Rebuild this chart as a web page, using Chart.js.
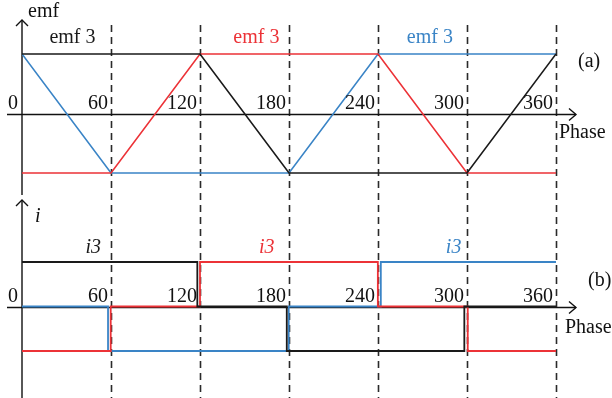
<!DOCTYPE html>
<html>
<head>
<meta charset="utf-8">
<script src="https://cdn.jsdelivr.net/npm/chart.js@4.4.0/dist/chart.umd.min.js"></script>
<style>
  html, body { margin: 0; padding: 0; background: #fff; }
</style>
</head>
<body>
<canvas id="chart" width="612" height="398"></canvas>
<script>
// phase ticks in electrical degrees
var phaseTicks = [0, 60, 120, 180, 240, 300, 360];

// (a) trapezoidal back-emf, value at each phase tick
var emfBlack = [1, 1, 1, -1, -1, -1, 1];
var emfRed = [-1, -1, 1, 1, 1, -1, -1];
var emfBlue = [1, -1, -1, -1, 1, 1, 1];

// (b) phase currents: switching phase and the level held after it
var iBlackPhase = [0, 118.2, 178.5, 298.2, 360];
var iBlack = [1, 0, -1, 0, 0];
var iRedPhase = [0, 59.8, 120, 239.9, 300.5, 360];
var iRed = [-1, 0, 1, 0, -1, -1];
var iBluePhase = [0, 58, 179.8, 241.9, 360];
var iBlue = [0, -1, 0, 1, 1];

// where each curve label sits along the phase axis
var emfLabelPhase = [34, 158, 275];
var iLabelPhase = [48, 165, 291];

var colors = ['#1a1a1a', '#ec3237', '#3a84c6'];
var serif = '"Liberation Serif", "DejaVu Serif", serif';

function pts(xs, ys) {
    return xs.map(function(x, k) {
        return { x: x, y: ys[k] };
    });
}

function line(data, color, axis, stepped) {
    return {
        data: data,
        yAxisID: axis,
        borderColor: color,
        borderWidth: stepped ? 1.8 : 1.6,
        pointRadius: 0,
        stepped: !!stepped,
        tension: 0,
        fill: false
    };
}

function arrowUp(ctx, x, y) {
    ctx.beginPath();
    ctx.moveTo(x - 6, y + 6);
    ctx.lineTo(x, y);
    ctx.lineTo(x + 6, y + 6);
    ctx.stroke();
}

function arrowRight(ctx, x, y) {
    ctx.beginPath();
    ctx.moveTo(x - 7, y - 6);
    ctx.lineTo(x, y);
    ctx.lineTo(x - 7, y + 6);
    ctx.stroke();
}

// dashed phase guides and both pairs of axes, under the curves
var frame = {
    id: 'frame',
    beforeDatasetsDraw: function(chart) {
        var ctx = chart.ctx, sx = chart.scales.x, ya = chart.scales.yA, yb = chart.scales.yB;
        var x0 = sx.getPixelForValue(0), xEnd = sx.getPixelForValue(360);
        ctx.save();
        ctx.strokeStyle = '#2a2a2a';
        ctx.lineWidth = 1.6;
        ctx.setLineDash([7, 5]);
        phaseTicks.slice(1).forEach(function(p) {
            var px = Math.round(sx.getPixelForValue(p)) + 0.5;
            ctx.beginPath();
            ctx.moveTo(px, ya.getPixelForValue(1) - 29);
            ctx.lineTo(px, chart.chartArea.bottom);
            ctx.stroke();
        });
        ctx.setLineDash([]);
        ctx.strokeStyle = '#111';
        ctx.lineWidth = 1.4;
        [[ya, ya.getPixelForValue(1) - 34, ya.getPixelForValue(-1) + 22],
         [yb, yb.getPixelForValue(1) - 62, chart.chartArea.bottom]].forEach(function(p) {
            var yz = Math.round(p[0].getPixelForValue(0)) + 0.5;
            ctx.beginPath();
            ctx.moveTo(x0 - 15, yz);
            ctx.lineTo(xEnd + 20, yz);
            ctx.moveTo(x0, p[1]);
            ctx.lineTo(x0, p[2]);
            ctx.stroke();
            arrowRight(ctx, xEnd + 20, yz);
            arrowUp(ctx, x0, p[1]);
        });
        ctx.restore();
    },
    afterDatasetsDraw: function(chart) {
        var ctx = chart.ctx, sx = chart.scales.x, ya = chart.scales.yA, yb = chart.scales.yB;
        var x0 = sx.getPixelForValue(0);
        var font = '20px ' + serif, italic = 'italic 20px ' + serif;
        ctx.save();
        ctx.textBaseline = 'alphabetic';
        ctx.font = font;
        ctx.fillStyle = '#111';
        // phase tick labels on both axes
        ctx.textAlign = 'right';
        [ya, yb].forEach(function(s) {
            var yz = s.getPixelForValue(0) - 5;
            phaseTicks.forEach(function(p) {
                ctx.fillText(String(p), sx.getPixelForValue(p) - (p === 0 ? 4 : 3), yz);
            });
        });
        ctx.textAlign = 'left';
        ctx.fillText('emf', x0 + 6, ya.getPixelForValue(1) - 37);
        ctx.fillText('Phase', 559, ya.getPixelForValue(0) + 24);
        ctx.fillText('Phase', 565, yb.getPixelForValue(0) + 26);
        ctx.fillText('(a)', 578, ya.getPixelForValue(1) + 13);
        ctx.fillText('(b)', 588, yb.getPixelForValue(0) - 21);
        ctx.font = italic;
        ctx.fillText('i', x0 + 13, yb.getPixelForValue(1) - 40);
        // curve labels
        ctx.textAlign = 'center';
        colors.forEach(function(c, k) {
            ctx.fillStyle = c;
            ctx.font = font;
            ctx.fillText('emf 3', sx.getPixelForValue(emfLabelPhase[k]), ya.getPixelForValue(1) - 11);
            ctx.font = italic;
            ctx.fillText('i3', sx.getPixelForValue(iLabelPhase[k]), yb.getPixelForValue(1) - 9);
        });
        ctx.restore();
    }
};

new Chart(document.getElementById('chart').getContext('2d'), {
    type: 'line',
    data: {
        datasets: [
            line(pts(phaseTicks, emfBlack), colors[0], 'yA'),
            line(pts(phaseTicks, emfRed), colors[1], 'yA'),
            line(pts(phaseTicks, emfBlue), colors[2], 'yA'),
            line(pts(iBlackPhase, iBlack), colors[0], 'yB', true),
            line(pts(iRedPhase, iRed), colors[1], 'yB', true),
            line(pts(iBluePhase, iBlue), colors[2], 'yB', true)
        ]
    },
    options: {
        responsive: false,
        animation: false,
        layout: { padding: { left: 22, right: 56, top: 0, bottom: 0 } },
        plugins: { legend: { display: false }, tooltip: { enabled: false } },
        scales: {
            x: { type: 'linear', min: 0, max: 360, display: false },
            yA: { type: 'linear', position: 'left', min: -4.781, max: 1.908, display: false },
            yB: { type: 'linear', position: 'left', min: -2.056, max: 6.888, display: false }
        }
    },
    plugins: [frame]
});
</script>
</body>
</html>
